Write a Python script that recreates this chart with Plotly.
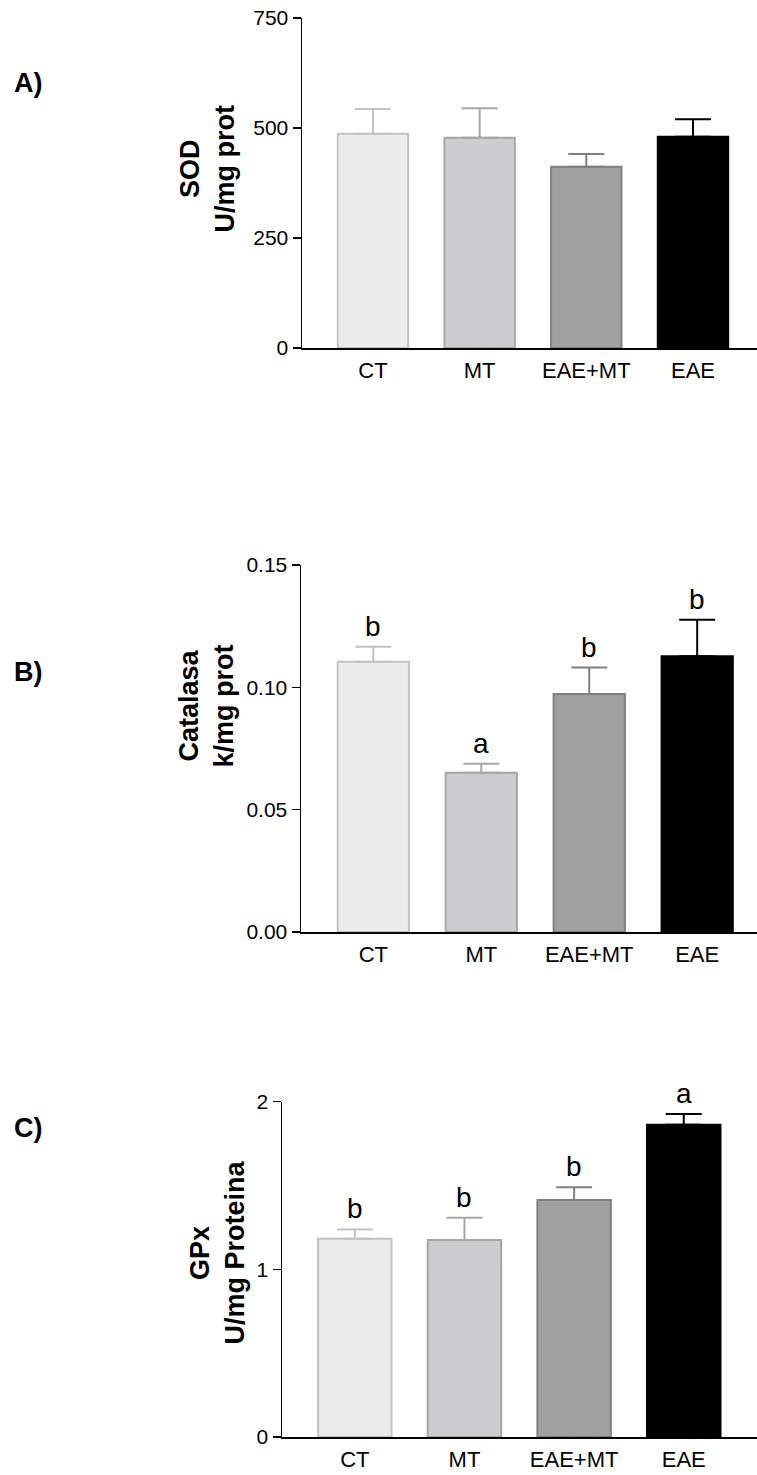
import plotly.graph_objects as go

# ---------------- data ----------------
categories = ["CT", "MT", "EAE+MT", "EAE"]

sod_mean = [487, 478, 412, 480]
sod_sem = [56, 67, 29, 40]

cat_mean = [0.1105, 0.0651, 0.0973, 0.1127]
cat_sem = [0.0061, 0.0037, 0.0108, 0.0149]
cat_letters = ["b", "a", "b", "b"]

gpx_mean = [1.183, 1.175, 1.413, 1.862]
gpx_sem = [0.055, 0.133, 0.076, 0.064]
gpx_letters = ["b", "b", "b", "a"]

sod_ticks = [0, 250, 500, 750]
cat_ticks = [0.00, 0.05, 0.10, 0.15]
gpx_ticks = [0, 1, 2]

# ---------------- styles ----------------
fill_colors = ["#ebebeb", "#cdcdcf", "#a0a0a0", "#000000"]
edge_colors = ["#c2c2c2", "#a6a6a6", "#808080", "#000000"]
FONT = "Liberation Sans, Arial, Helvetica, sans-serif"
W, H = 757, 1475


def xd(px):
    return px / W


def yd(py):
    return 1 - py / H


fig = go.Figure()

panels = [
    dict(means=sod_mean, sems=sod_sem, letters=None, ax="", bw=0.66),
    dict(means=cat_mean, sems=cat_sem, letters=cat_letters, ax="2", bw=0.66),
    dict(means=gpx_mean, sems=gpx_sem, letters=gpx_letters, ax="3", bw=0.67),
]

annotations = []
for p in panels:
    for i, c in enumerate(categories):
        fig.add_trace(go.Bar(
            x=[c], y=[p["means"][i]],
            xaxis="x" + p["ax"], yaxis="y" + p["ax"],
            width=p["bw"],
            marker=dict(color=fill_colors[i],
                        line=dict(color=edge_colors[i], width=2)),
            error_y=dict(type="data", array=[p["sems"][i]], arrayminus=[0],
                         symmetric=False, color=edge_colors[i],
                         thickness=2, width=18),
            showlegend=False, hoverinfo="skip",
        ))
        if p["letters"]:
            annotations.append(dict(
                x=c, y=p["means"][i] + p["sems"][i],
                xref="x" + p["ax"], yref="y" + p["ax"],
                text=p["letters"][i], showarrow=False,
                yanchor="bottom", yshift=3,
                font=dict(family=FONT, size=28, color="black"),
            ))

axis_common = dict(showgrid=False, zeroline=False, showline=True,
                   linecolor="black", linewidth=1.5, automargin=False)
xcommon = dict(axis_common, ticks="", ticklabelstandoff=2,
               tickfont=dict(family=FONT, size=22, color="black"),
               type="category")
ycommon = dict(axis_common, ticks="outside", ticklen=8, tickwidth=1.5,
               tickcolor="black",
               tickfont=dict(family=FONT, size=21, color="black"))

layout = dict(
    width=W, height=H,
    margin=dict(l=0, r=0, t=0, b=0, autoexpand=False),
    paper_bgcolor="white", plot_bgcolor="white",
    barmode="overlay",
    xaxis=dict(xcommon, domain=[xd(302), xd(757)], range=[-0.665, 3.6],
               anchor="y"),
    yaxis=dict(ycommon, domain=[yd(348), yd(18)], range=[0, 750],
               tickvals=sod_ticks, anchor="x"),
    xaxis2=dict(xcommon, domain=[xd(301), xd(757)], range=[-0.67, 3.554],
                anchor="y2"),
    yaxis2=dict(ycommon, domain=[yd(932), yd(565)], range=[0, 0.15],
                tickvals=cat_ticks, tickformat=".2f", anchor="x2"),
    xaxis3=dict(xcommon, domain=[xd(282), xd(757)], range=[-0.664, 3.668],
                anchor="y3"),
    yaxis3=dict(ycommon, domain=[yd(1437), yd(1101.7)], range=[0, 2],
                tickvals=gpx_ticks, anchor="x3"),
)

# y-axis titles (two bold lines, rotated)
titles = [
    ("SOD<br>U/mg prot", 207.5, 169),
    ("Catalasa<br>k/mg prot", 205.5, 706),
    ("GPx<br>U/mg Proteina", 216.5, 1253),
]
for txt, px, py in titles:
    annotations.append(dict(
        x=xd(px), y=yd(py), xref="paper", yref="paper",
        text="<b>" + txt.replace("<br>", "</b><br><b>") + "</b>",
        textangle=-90, showarrow=False,
        xanchor="center", yanchor="middle",
        font=dict(family=FONT, size=27, color="black"),
    ))

# panel labels
for lab, py in [("A)", 83), ("B)", 672), ("C)", 1128)]:
    annotations.append(dict(
        x=xd(28), y=yd(py), xref="paper", yref="paper",
        text="<b>" + lab + "</b>", showarrow=False,
        xanchor="center", yanchor="middle",
        font=dict(family=FONT, size=27, color="black"),
    ))

layout["annotations"] = annotations
fig.update_layout(**layout)

fig.write_html(
    "out.html",
    config={"displayModeBar": False, "staticPlot": True},
    post_script="document.body.style.margin='0';"
                "document.body.style.overflow='hidden';",
)
